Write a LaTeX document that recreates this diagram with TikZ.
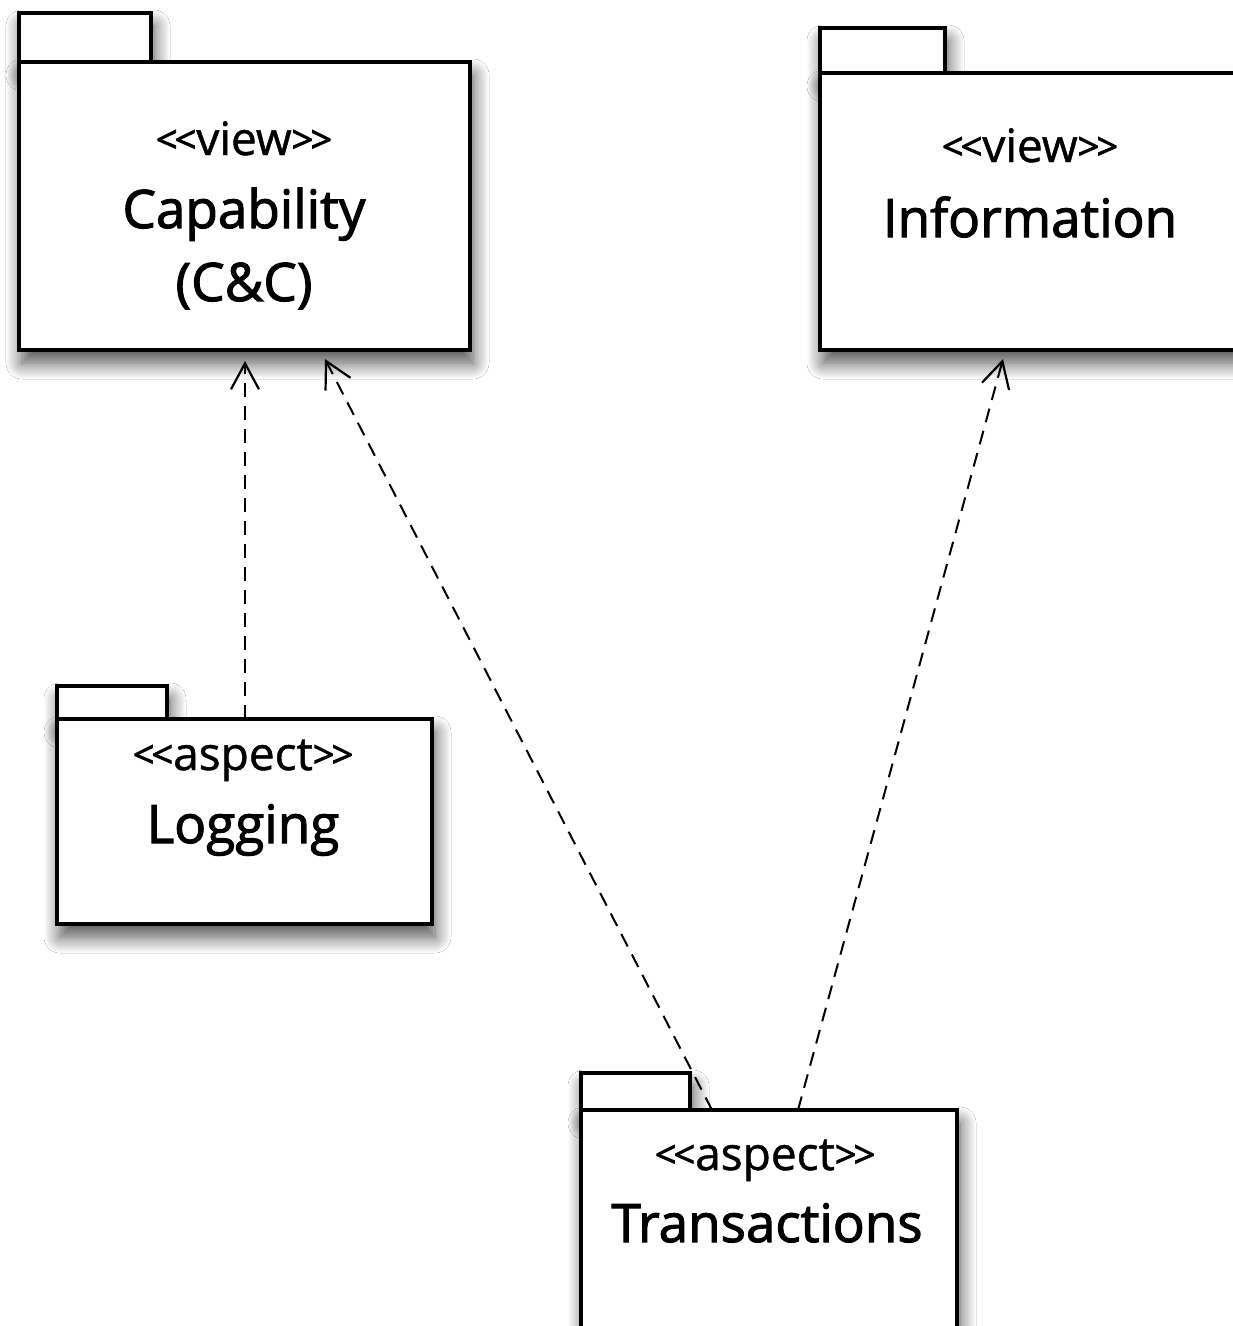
\documentclass[tikz,border=0pt]{standalone}
\usepackage{fontspec}
\setmainfont{Open Sans}[Ligatures=TeXOff]
\usetikzlibrary{arrows.meta,shadows.blur}
\newcommand{\stereo}[1]{{\fontsize{38}{40}\selectfont\addfontfeature{FakeBold=2}\raisebox{2pt}{<\kern-3pt<}}#1{\fontsize{38}{40}\selectfont\addfontfeature{FakeBold=2}\raisebox{2pt}{>\kern-3pt>}}}
\begin{document}
\begin{tikzpicture}[x=1pt,y=-1pt,
  pkgshadow/.style={blur shadow={shadow xshift=3pt,shadow yshift=-13pt,shadow blur radius=16pt,shadow blur steps=16,shadow opacity=70}},
  pkgbody/.style={draw=black,fill=white,line width=3.5pt,rectangle,inner sep=0pt,outer sep=0pt,pkgshadow},
  pkgtab/.style={draw=black,fill=white,line width=3.5pt,pkgshadow},
  stereotxt/.style={font=\fontsize{46}{50}\selectfont\addfontfeature{FakeBold=1},anchor=base,inner sep=0pt},
  pname/.style={font=\fontsize{53}{58}\selectfont\addfontfeature{FakeBold=2},anchor=base,inner sep=0pt},
  dep/.style={draw=black,line width=2pt,dash pattern=on 14pt off 9pt,-{Straight Barb[length=26pt,width=28pt,line width=2.2pt]}}
]
\clip (0,0) rectangle (1233,1326);
\fill[white] (0,0) rectangle (1233,1326);

% Capability
\draw[pkgtab] (19,13) rectangle (151,62);
\node[pkgbody,minimum width=451pt,minimum height=288pt] (cap) at (244.5,206) {};
\node[stereotxt] (capst) at (244,155) {\stereo{view}};
\node[pname] (capnm) at (244,228) {Capability};
\node[pname] (capnm2) at (244,301) {(C\&C)};

% Information
\draw[pkgtab] (820,28) rectangle (945,73);
\node[pkgbody,minimum width=500pt,minimum height=277pt] (inf) at (1070,211.5) {};
\node[stereotxt] (infst) at (1030,162) {\stereo{view}};
\node[pname] (infnm) at (1030,237) {Information};

% Logging
\draw[pkgtab] (57,686) rectangle (167,719);
\node[pkgbody,minimum width=375pt,minimum height=205pt] (log) at (244.5,821.5) {};
\node[stereotxt] (logst) at (243,770) {\stereo{aspect}};
\node[pname] (lognm) at (243,843) {Logging};

% Transactions
\draw[pkgtab] (581,1073) rectangle (690,1110);
\node[pkgbody,minimum width=376pt,minimum height=260pt] (tra) at (769,1240) {};
\node[stereotxt] (trast) at (765,1170) {\stereo{aspect}};
\node[pname] (tranm) at (767,1242) {Transactions};

% Dependencies
\coordinate (t1) at (245,361);
\coordinate (t2) at (325,359);
\coordinate (t3) at (1003,359);
\draw[dep] (log.north -| t1) -- (t1);
\draw[dep] ([xshift=-57pt]tra.north) -- (t2);
\draw[dep] ([xshift=29pt]tra.north) -- (t3);
\end{tikzpicture}
\end{document}
